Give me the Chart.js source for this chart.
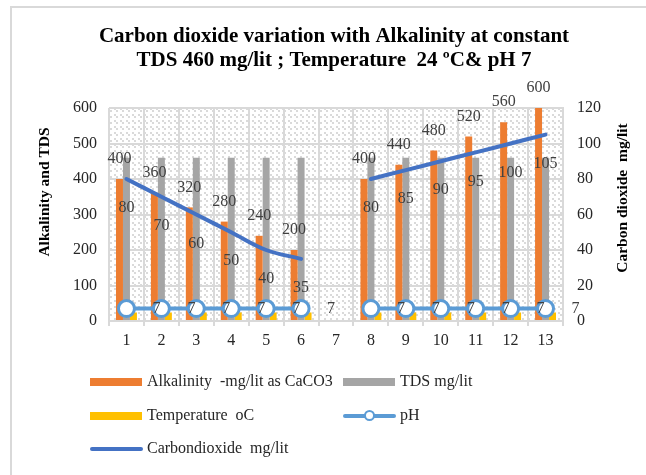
<!DOCTYPE html>
<html>
<head>
<meta charset="utf-8">
<script src="https://cdn.jsdelivr.net/npm/chart.js@4.4.0/dist/chart.umd.min.js"></script>
<style>
    body { margin: 0; background: #fff; }
    #wrap { position: relative; width: 646px; height: 475px; overflow: hidden; }
    #frame { position: absolute; left: 10px; top: 6px; width: 700px; height: 600px;
             border-left: 2px solid #d9d9d9; border-top: 2px solid #d9d9d9; }
    #chart { position: absolute; left: 0; top: 0; }
    .lg { position: absolute; font: 16px "Liberation Serif", "Times New Roman", serif; color: #262626;
          white-space: pre; line-height: 18px; }
    .sw { position: absolute; }
</style>
</head>
<body>
<div id="wrap">
    <div id="frame"></div>
    <canvas id="chart" width="646" height="475"></canvas>
    <div id="legend"></div>
</div>
<script>
const categories = ['1', '2', '3', '4', '5', '6', '7', '8', '9', '10', '11', '12', '13'];
const alkalinity = [400, 360, 320, 280, 240, 200, null, 400, 440, 480, 520, 560, 600];
const tds = [460, 460, 460, 460, 460, 460, null, 460, 460, 460, 460, 460, 460];
const temperature = [24, 24, 24, 24, 24, 24, null, 24, 24, 24, 24, 24, 24];
const ph = [7, 7, 7, 7, 7, 7, null, 7, 7, 7, 7, 7, 7];
const co2 = [80, 70, 60, 50, 40, 35, null, 80, 85, 90, 95, 100, 105];

const serif = '"Liberation Serif", "Times New Roman", serif';
const labelColor = '#404040';

// hatched fill of the plot area
function makePattern() {
    const c = document.createElement('canvas');
    c.width = 6; c.height = 6;
    const g = c.getContext('2d');
    g.fillStyle = '#fff';
    g.fillRect(0, 0, 6, 6);
    g.fillStyle = '#dadada';
    g.fillRect(0, 0, 2, 2);
    g.fillRect(2, 2, 2, 2);
    return g.createPattern(c, 'repeat');
}

const backdrop = {
    id: 'backdrop',
    beforeDraw(chart) {
        const {ctx, chartArea: a} = chart;
        ctx.save();
        ctx.fillStyle = makePattern();
        ctx.fillRect(a.left, a.top, a.right - a.left, a.bottom - a.top);
        ctx.restore();
    }
};

const axisTitles = {
    id: 'axisTitles',
    afterDraw(chart) {
        const ctx = chart.ctx;
        ctx.save();
        ctx.font = 'bold 15.5px ' + serif;
        ctx.fillStyle = '#000';
        ctx.textAlign = 'center';
        ctx.textBaseline = 'middle';
        [[45, 192, 'Alkalinity and TDS'], [623, 198, 'Carbon dioxide  mg/lit']].forEach(t => {
            ctx.save();
            ctx.translate(t[0], t[1]);
            ctx.rotate(-Math.PI / 2);
            ctx.fillText(t[2], 0, 0);
            ctx.restore();
        });
        ctx.restore();
    }
};

const valueLabels = {
    id: 'valueLabels',
    afterDatasetsDraw(chart) {
        const ctx = chart.ctx;
        ctx.save();
        ctx.font = '16px ' + serif;
        ctx.fillStyle = labelColor;
        ctx.textAlign = 'center';
        ctx.textBaseline = 'middle';
        chart.getDatasetMeta(0).data.forEach((el, i) => {
            if (alkalinity[i] != null) ctx.fillText(alkalinity[i], el.x, el.y - 20);
        });
        chart.getDatasetMeta(4).data.forEach((el, i) => {
            if (co2[i] != null) ctx.fillText(co2[i], el.x, el.y + 29);
        });
        chart.getDatasetMeta(3).data.forEach((el, i) => {
            if (ph[i] != null) ctx.fillText(ph[i], el.x + 30, el.y);
        });
        ctx.restore();
    }
};

const gridColor = '#d9d9d9';

const chart = new Chart(document.getElementById('chart'), {
    type: 'bar',
    data: {
        labels: categories,
        datasets: [
            {label: 'Alkalinity  -mg/lit as CaCO3', data: alkalinity, backgroundColor: '#ED7D31', yAxisID: 'y', order: 1},
            {label: 'TDS mg/lit', data: tds, backgroundColor: '#A5A5A5', yAxisID: 'y', order: 1},
            {label: 'Temperature  oC', data: temperature, backgroundColor: '#FFC000', yAxisID: 'y', order: 1},
            {
                type: 'line', label: 'pH', data: ph, yAxisID: 'y1', order: 0,
                borderColor: '#5B9BD5', borderWidth: 4, backgroundColor: '#fff',
                pointRadius: 8, pointBorderWidth: 3, pointBackgroundColor: '#fff', pointBorderColor: '#5B9BD5',
                spanGaps: false
            },
            {
                type: 'line', label: 'Carbondioxide  mg/lit', data: co2, yAxisID: 'y1', order: 0,
                borderColor: '#4472C4', borderWidth: 4, pointRadius: 0, tension: 0.35,
                borderCapStyle: 'round', spanGaps: false
            }
        ]
    },
    options: {
        responsive: false,
        animation: false,
        events: [],
        datasets: {bar: {categoryPercentage: 0.6, barPercentage: 1}},
        layout: {padding: {left: 37, right: 15, top: 0, bottom: 119}},
        plugins: {
            legend: {display: false},
            tooltip: {enabled: false},
            title: {
                display: true,
                text: ['Carbon dioxide variation with Alkalinity at constant', 'TDS 460 mg/lit ; Temperature  24 ºC& pH 7'],
                color: '#000',
                font: {family: serif, size: 21, weight: 'bold', lineHeight: 1.1},
                padding: {top: 25.5, bottom: 36.3}
            }
        },
        scales: {
            x: {
                grid: {color: gridColor, lineWidth: 2, offset: true, drawTicks: true, tickLength: 5, tickColor: gridColor},
                border: {color: gridColor, width: 2},
                ticks: {font: {family: serif, size: 16}, color: '#262626', padding: 5},
                afterFit(s) { s.height = 35; }
            },
            y: {
                min: 0, max: 600,
                grid: {color: gridColor, lineWidth: 2, drawTicks: false},
                border: {display: false},
                ticks: {stepSize: 100, font: {family: serif, size: 16}, color: '#262626', padding: 12},
                afterFit(s) { s.width = 72; }
            },
            y1: {
                position: 'right',
                min: 0, max: 120,
                grid: {display: false, drawTicks: false},
                border: {color: gridColor, width: 2},
                ticks: {stepSize: 20, font: {family: serif, size: 16}, color: '#262626', padding: 14},
                afterFit(s) { s.width = 68; }
            }
        }
    },
    plugins: [backdrop, valueLabels, axisTitles]
});

// two-column legend built from the chart's datasets
const legendPlaces = [
    [90, 382], [343, 382],
    [90, 416], [343, 416],
    [90, 449]
];
const legendBox = document.getElementById('legend');
chart.data.datasets.forEach((ds, i) => {
    const [x, y] = legendPlaces[i];
    const sw = document.createElement('div');
    sw.className = 'sw';
    if (ds.type === 'line') {
        sw.style.cssText = `left:${x}px;top:${y - 2}px;width:53px;height:4px;border-radius:2px;background:${ds.borderColor}`;
        legendBox.appendChild(sw);
        if (ds.pointRadius) {
            const m = document.createElement('div');
            m.className = 'sw';
            m.style.cssText = `left:${x + 21}px;top:${y - 6}px;width:7px;height:7px;border-radius:50%;border:2.5px solid ${ds.borderColor};background:#fff`;
            legendBox.appendChild(m);
        }
    } else {
        sw.style.cssText = `left:${x}px;top:${y - 4}px;width:52px;height:8px;background:${ds.backgroundColor}`;
        legendBox.appendChild(sw);
    }
    const t = document.createElement('div');
    t.className = 'lg';
    t.style.left = (x + 57) + 'px';
    t.style.top = (y - 10) + 'px';
    t.textContent = ds.label;
    legendBox.appendChild(t);
});
</script>
</body>
</html>
